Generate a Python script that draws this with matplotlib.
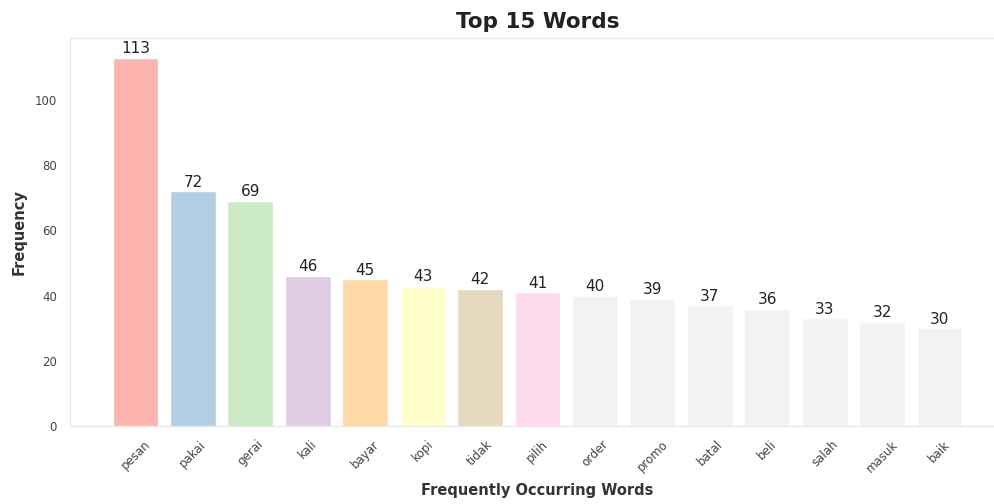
import matplotlib.pyplot as plt
import seaborn as sns

# --- Data ---
words = ["pesan", "pakai", "gerai", "kali", "bayar", "kopi", "tidak", "pilih",
         "order", "promo", "batal", "beli", "salah", "masuk", "baik"]
counts = [113, 72, 69, 46, 45, 43, 42, 41, 40, 39, 37, 36, 33, 32, 30]

sns.set_style("white")

colors = plt.cm.Pastel1(range(len(words)))

fig = plt.figure(figsize=(9.95, 5.04), dpi=100)
# axes runs a little past the right edge, as in the reference
ax = fig.add_axes([0.0704, 0.1548, 0.9396, 0.7698])
bars = ax.bar(words, counts, color=colors, width=0.8)

for b, v in zip(bars, counts):
    ax.text(b.get_x() + b.get_width() / 2, v + 0.5, str(v),
            ha="center", va="bottom", fontsize=11, color="#222222")

for s in ax.spines.values():
    s.set_color("#e6e6e6")

ax.set_ylim(0, 119)
ax.set_title("Top 15 Words", fontsize=15.5, fontweight="bold", color="#222222", pad=7)
ax.set_xlabel("Frequently Occurring Words", fontsize=10.5, fontweight="bold",
              color="#333333", labelpad=6)
ax.set_ylabel("Frequency", fontsize=10.5, fontweight="bold", color="#333333", labelpad=6)
ax.tick_params(axis="x", labelrotation=45, labelsize=8.5, colors="#444444", pad=5)
ax.tick_params(axis="y", labelsize=8.5, colors="#444444", pad=6)

plt.savefig("out.png", dpi=100)
